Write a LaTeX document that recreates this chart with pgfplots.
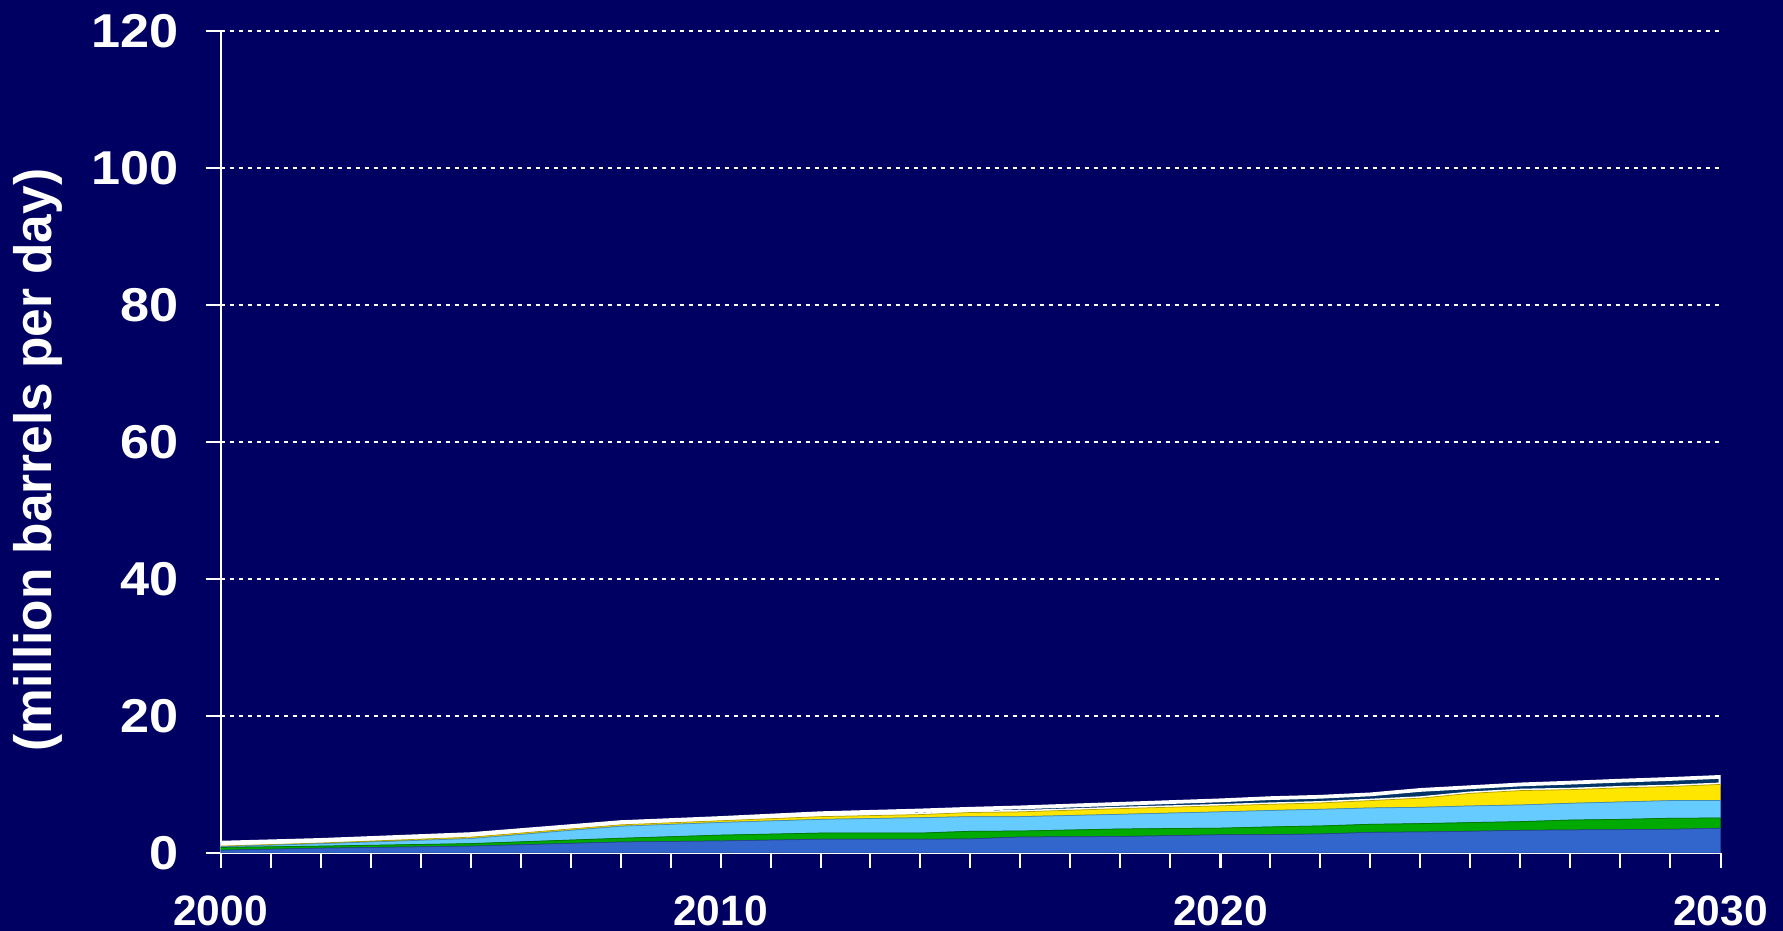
\documentclass[border=0pt]{standalone}
\usepackage{pgfplots}
\pgfplotsset{compat=1.18}
\usepackage{pgfplotstable}
\usepackage{fontspec}
\setmainfont{Liberation Sans}
\newfontfamily\widefont{Liberation Sans}[FakeStretch=1.1]
\definecolor{bg}{RGB}{0,0,98}
\definecolor{lay1}{RGB}{51,102,204}
\definecolor{lay2}{RGB}{0,170,0}
\definecolor{lay3}{RGB}{102,204,255}
\definecolor{lay4}{RGB}{255,230,0}
\definecolor{lay5}{RGB}{0,51,102}
\pgfdeclarelayer{background}
\pgfsetlayers{background,main}
\pgfplotstableread{
year a b c d e
2000 0.40 0.40 0.12 0.08 0.50
2002 0.70 0.30 0.35 0.10 0.45
2005 1.00 0.36 0.74 0.20 0.45
2008 1.60 0.54 1.76 0.20 0.40
2010 1.75 0.85 1.85 0.25 0.40
2012 2.00 0.90 2.00 0.40 0.50
2014 2.00 0.90 2.25 0.45 0.60
2015 2.04 1.12 2.14 0.60 0.55
2016 2.33 0.87 2.10 0.70 0.65
2018 2.40 1.10 2.14 0.83 0.70
2020 2.65 0.97 2.38 0.88 0.80
2021 2.67 1.13 2.40 0.90 0.90
2022 2.77 1.17 2.43 0.93 0.90
2023 3.00 1.18 2.39 1.07 0.91
2024 3.06 1.22 2.38 1.34 1.20
2025 3.16 1.27 2.43 1.84 0.90
2026 3.30 1.27 2.43 2.10 0.90
2027 3.36 1.44 2.45 1.99 1.02
2028 3.40 1.50 2.54 2.06 1.05
2029 3.45 1.61 2.58 2.06 1.10
2030 3.60 1.50 2.54 2.36 1.10
}\data
\begin{document}
\begin{tikzpicture}
\begin{axis}[
  name=ax,
  scale only axis,
  width=600pt, height=328.9pt,
  xmin=2000, xmax=2030, ymin=0, ymax=120,
  axis x line=bottom, axis y line=left,
  axis line style={-, white, line width=0.8pt},
  tick align=outside,
  xtick={2000,2010,2020,2030},
  minor xtick={2001,...,2029},
  ytick={0,20,...,120},
  major tick length=6pt, minor tick length=6pt,
  every tick/.style={white, line width=0.8pt},
  xticklabel style={font=\fontsize{17}{17}\selectfont\bfseries, text=white, yshift=-7.6pt},
  yticklabel style={font=\fontsize{19}{19}\widefont\bfseries, text=white, xshift=-7.4pt},
  /pgf/number format/assume math mode=true,
  /pgf/number format/1000 sep={},
  ymajorgrids,
  major grid style={white, line width=0.8pt, dash pattern=on 1.8pt off 1.8pt},
  stack plots=y,
]
\addplot[fill=lay1, draw=lay1!70!black, line width=0.3pt] table[x=year,y=a]{\data} \closedcycle;
\addplot[fill=lay2, draw=lay2!70!black, line width=0.3pt] table[x=year,y=b]{\data} \closedcycle;
\addplot[fill=lay3, draw=lay3!70!black, line width=0.3pt] table[x=year,y=c]{\data} \closedcycle;
\addplot[fill=lay4, draw=lay4!70!black, line width=0.3pt] table[x=year,y=d]{\data} \closedcycle;
\addplot[fill=lay5, draw=white, line width=1.5pt] table[x=year,y=e]{\data} \closedcycle;
\end{axis}
\node[rotate=90, text=white, inner sep=0pt] at ([xshift=-73.2pt, yshift=157.2pt]ax.south west)
  {\resizebox*{233pt}{19.6pt}{\bfseries(million barrels per day)}};
\pgfresetboundingbox
\path[use as bounding box] ([xshift=-88.24pt, yshift=-31.2pt]ax.south west) rectangle ([xshift=25pt, yshift=12.3pt]ax.north east);
\begin{pgfonlayer}{background}
\fill[bg] ([xshift=-88.24pt, yshift=-31.2pt]ax.south west) rectangle ([xshift=25pt, yshift=12.3pt]ax.north east);
\end{pgfonlayer}
\end{tikzpicture}
\end{document}
